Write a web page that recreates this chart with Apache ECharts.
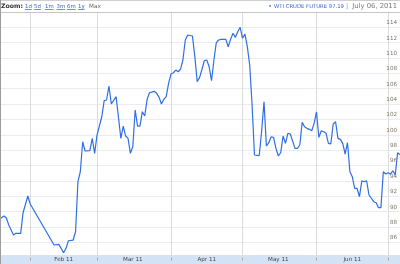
<!DOCTYPE html>
<html><head><meta charset="utf-8">
<script src="https://cdn.jsdelivr.net/npm/echarts@6/dist/echarts.min.js"></script>
<style>html,body{margin:0;padding:0;background:#fff;overflow:hidden}#c{width:400px;height:264px}</style>
</head><body><div id="c"></div>
<script>
// ---- data ----
const dates = [
'2011-01-19','2011-01-21','2011-01-22','2011-01-23','2011-01-25','2011-01-26','2011-01-28','2011-01-29','2011-01-31',
'2011-02-01','2011-02-11','2011-02-13','2011-02-15','2011-02-16','2011-02-17','2011-02-19','2011-02-20','2011-02-21',
'2011-02-22','2011-02-23','2011-02-24','2011-02-26','2011-02-27','2011-02-28',
'2011-03-01','2011-03-03','2011-03-04','2011-03-05','2011-03-06','2011-03-07','2011-03-09','2011-03-11','2011-03-12',
'2011-03-13','2011-03-14','2011-03-15','2011-03-16','2011-03-17','2011-03-18','2011-03-19','2011-03-20','2011-03-21',
'2011-03-22','2011-03-23','2011-03-25','2011-03-26','2011-03-27','2011-03-28','2011-03-29','2011-03-30','2011-03-31',
'2011-04-01','2011-04-02','2011-04-03','2011-04-04','2011-04-05','2011-04-06','2011-04-07','2011-04-08','2011-04-10',
'2011-04-11','2011-04-12','2011-04-13','2011-04-14','2011-04-15','2011-04-16','2011-04-17','2011-04-18','2011-04-19',
'2011-04-20','2011-04-21','2011-04-22','2011-04-24','2011-04-25','2011-04-26','2011-04-27','2011-04-28','2011-04-29',
'2011-04-30',
'2011-05-01','2011-05-02','2011-05-03','2011-05-04','2011-05-05','2011-05-06','2011-05-08','2011-05-09','2011-05-10',
'2011-05-11','2011-05-12','2011-05-13','2011-05-14','2011-05-15','2011-05-16','2011-05-17','2011-05-18','2011-05-19',
'2011-05-20','2011-05-21','2011-05-23','2011-05-24','2011-05-25','2011-05-26','2011-05-27','2011-05-28','2011-05-29',
'2011-05-30','2011-05-31',
'2011-06-01','2011-06-02','2011-06-03','2011-06-04','2011-06-05','2011-06-06','2011-06-07','2011-06-08','2011-06-09',
'2011-06-10','2011-06-11','2011-06-12','2011-06-13','2011-06-14','2011-06-15','2011-06-16','2011-06-17','2011-06-18',
'2011-06-19','2011-06-20','2011-06-21','2011-06-22','2011-06-23','2011-06-25','2011-06-26','2011-06-27','2011-06-28',
'2011-06-29','2011-06-30',
'2011-07-01','2011-07-02','2011-07-03','2011-07-04','2011-07-05','2011-07-06'
];
const prices = [
89.00,89.42,89.16,88.25,86.95,87.17,87.17,89.85,92.03,
90.99,85.65,85.74,84.65,85.22,86.21,86.30,87.38,93.89,
95.19,99.10,97.89,97.93,99.54,97.59,
99.97,102.35,104.44,104.53,106.35,104.01,104.96,99.54,101.14,
99.84,99.54,97.59,98.47,103.23,101.14,101.14,103.01,102.45,
104.62,105.48,105.66,105.40,104.88,104.01,104.62,104.96,106.70,
107.91,108.08,108.43,108.21,108.53,109.74,112.34,112.99,112.86,
110.17,106.91,107.48,108.53,109.65,109.74,108.86,107.04,109.74,
111.99,112.34,112.43,112.43,111.47,112.43,113.21,112.69,113.42,
114.00,
112.56,113.12,111.47,109.09,103.88,97.37,97.30,100.49,104.31,
98.54,98.97,99.75,99.67,98.24,97.24,97.67,99.84,98.89,
100.19,100.10,98.24,98.24,98.67,101.62,101.05,100.84,100.71,
100.53,101.49,
102.97,99.67,100.53,100.40,100.19,98.89,98.80,101.40,101.70,
99.54,99.41,98.89,97.50,98.97,95.19,94.54,93.03,93.03,
91.94,94.02,93.89,94.02,92.16,91.29,91.16,90.51,90.51,
95.19,94.89,
95.06,94.89,95.32,94.76,97.67,97.40
];
const monthStarts = ['2011-02-01','2011-03-01','2011-04-01','2011-05-01','2011-06-01','2011-07-01'];
const monthLabelDates = ['2011-02-15','2011-03-16','2011-04-16','2011-05-16','2011-06-16'];
const monthLabels = ['Feb 11','Mar 11','Apr 11','May 11','Jun 11'];
const yMin = 84, yMax = 116, yStep = 2;
const zoomLinks = ['1d','5d','1m','3m','6m','1y'];
const zoomLinkX = [25,34,45,56.5,67,78];
const titleText = 'WTI CRUDE FUTURE 97.19';
const dateText = 'July 06, 2011';

function ts(s){const p=s.split('-').map(Number);return new Date(p[0],p[1]-1,p[2]).getTime();}
const lineData = dates.map((d,i)=>[ts(d), prices[i]]);
const labelTs = monthLabelDates.map(ts);

const FONT = '"DejaVu Sans", Verdana, sans-serif';
const mctx = document.createElement('canvas').getContext('2d');
function textW(t, size, weight){ mctx.font = (weight||'normal')+' '+size+'px '+FONT; return mctx.measureText(t).width; }

const LINK = '#3a5fcd';
const LSZ = 5.4, TSZ = 5.3;
const titleEnd = 274 + textW(titleText, TSZ);
const graphics = [
  {type:'rect', shape:{x:0,y:0,width:400,height:12}, style:{fill:'#fff'}, z:1},
  {type:'rect', shape:{x:0,y:255,width:400,height:9}, style:{fill:'#d4e2f5'}, z:1},
  {type:'line', shape:{x1:0,y1:12.5,x2:400,y2:12.5}, style:{stroke:'#c6c6c6',lineWidth:1}, z:20},
  {type:'line', shape:{x1:0,y1:0.5,x2:400,y2:0.5}, style:{stroke:'#cfcfcf',lineWidth:1}, z:20},
  {type:'line', shape:{x1:0.5,y1:0,x2:0.5,y2:264}, style:{stroke:'#9c9c9c',lineWidth:1}, z:20},
  {type:'text', x:1, y:6.5, style:{text:'Zoom:', fontSize:6.2, fontWeight:'bold', fontFamily:FONT, fill:'#333', verticalAlign:'middle'}, z:20}
];
zoomLinks.forEach((t,i)=>{
  graphics.push({type:'text', x:zoomLinkX[i], y:6.5, style:{text:t, fontSize:LSZ, fontFamily:FONT, fill:LINK, verticalAlign:'middle'}, z:20});
  const w = textW(t,LSZ);
  graphics.push({type:'line', shape:{x1:zoomLinkX[i],y1:9.5,x2:zoomLinkX[i]+w,y2:9.5}, style:{stroke:LINK,lineWidth:0.7}, z:20});
});
graphics.push({type:'text', x:89, y:6.5, style:{text:'Max', fontSize:5.7, fontFamily:FONT, fill:'#666', verticalAlign:'middle'}, z:20});
graphics.push({type:'text', x:270, y:6.5, style:{text:'\u2022', fontSize:6, fontFamily:FONT, fill:LINK, align:'center', verticalAlign:'middle'}, z:20});
graphics.push({type:'text', x:274, y:6.5, style:{text:titleText, fontSize:TSZ, fontFamily:FONT, fill:LINK, verticalAlign:'middle'}, z:20});
graphics.push({type:'text', x:titleEnd + 3, y:6.5, style:{text:'|', fontSize:6.5, fontFamily:FONT, fill:'#999', align:'center', verticalAlign:'middle'}, z:20});
graphics.push({type:'text', x:397, y:6.5, style:{text:dateText, fontSize:6.8, fontFamily:FONT, fill:'#777', align:'right', verticalAlign:'middle'}, z:20});

const yCommon = {type:'value', position:'right', min:yMin, max:yMax, interval:yStep,
  axisLine:{show:false}, axisTick:{show:false}};

const chart = echarts.init(document.getElementById('c'), null, {renderer:'canvas'});
chart.setOption({
  animation:false,
  backgroundColor:'#fff',
  grid:{left:0,right:0,top:11.9,bottom:6.3,containLabel:false,outerBoundsMode:'none'},
  xAxis:{
    type:'value', min: ts('2011-01-19')+8*3600e3, max: ts('2011-07-06'), z:1.5, scale:true,
    axisLine:{show:false},
    axisTick:{show:true, customValues: monthStarts.map(ts), length:3, lineStyle:{color:'#a8a8a8'}},
    splitLine:{show:true, lineStyle:{color:'#dcdcdc', width:1}},
    axisLabel:{customValues: labelTs, fontSize:5.6, fontFamily:FONT, color:'#444', margin:2, verticalAlign:'middle',
      formatter:(v)=>{const i=labelTs.indexOf(v);return i>=0?monthLabels[i]:'';}}
  },
  yAxis:[
    Object.assign({}, yCommon, {z:0, splitLine:{show:true, lineStyle:{color:'#e9ecf2', width:1}}, axisLabel:{show:false}}),
    Object.assign({}, yCommon, {z:13, splitLine:{show:false},
      axisLabel:{inside:true, margin:3, fontSize:5.6, fontFamily:FONT, color:'#7d7466', verticalAlign:'bottom',
        padding:[0,0,1.5,0], showMinLabel:false, showMaxLabel:false}})
  ],
  series:[{type:'line', data:lineData, showSymbol:false, symbol:'none', z:2, yAxisIndex:0,
    lineStyle:{color:'#2f6fe6', width:1.2}, itemStyle:{color:'#2f6fe6'}}],
  graphic:{elements:graphics}
});
</script>
</body></html>
